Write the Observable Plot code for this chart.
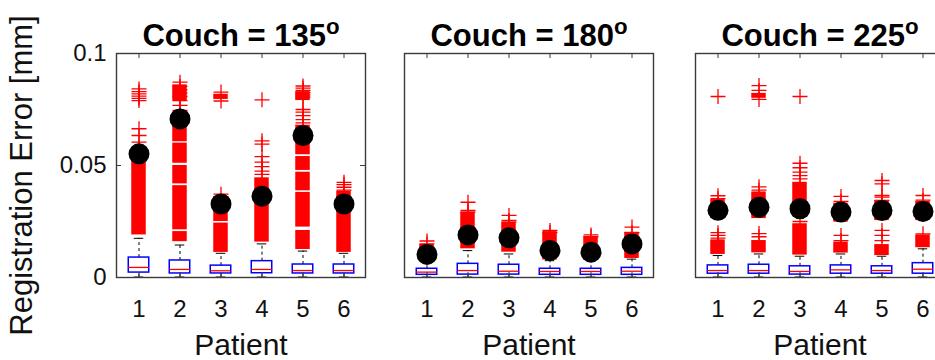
<!DOCTYPE html>
<html>
<head>
<meta charset="utf-8">
<script src="https://cdn.jsdelivr.net/npm/d3@7"></script>
<script src="https://cdn.jsdelivr.net/npm/@observablehq/plot@0.6"></script>
<style>
  html, body { margin: 0; padding: 0; background: #fff; overflow: hidden; }
  #chart { position: relative; width: 935px; height: 360px; overflow: hidden; background: #fff; }
  #chart svg { position: absolute; top: 0; }
</style>
</head>
<body>
<div id="chart"></div>
<script>
// ---- data ----
const couches = ["135", "180", "225"];
const patients = [1, 2, 3, 4, 5, 6];
const yTicks = [0, 0.05, 0.1];

// box statistics, one array per couch angle, one value per patient
const q1 = [
  [0.0022, 0.0018, 0.0018, 0.0019, 0.0018, 0.0018],
  [0.0012, 0.0013, 0.0013, 0.0012, 0.0012, 0.0012],
  [0.0017, 0.0017, 0.0013, 0.0017, 0.0017, 0.0017]
];
const medians = [
  [0.0045, 0.0036, 0.0030, 0.0036, 0.0031, 0.0031],
  [0.0024, 0.0031, 0.0028, 0.0027, 0.0027, 0.0028],
  [0.0031, 0.0031, 0.0027, 0.0034, 0.0031, 0.0037]
];
const q3 = [
  [0.0089, 0.0076, 0.0053, 0.0073, 0.0058, 0.0058],
  [0.0039, 0.0061, 0.0057, 0.0039, 0.0039, 0.0043],
  [0.0054, 0.0057, 0.0050, 0.0054, 0.0050, 0.0064]
];
const whiskerLow = [
  [0.0002, 0.0002, 0.0002, 0.0002, 0.0002, 0.0002],
  [0.0002, 0.0002, 0.0002, 0.0002, 0.0002, 0.0002],
  [0.0002, 0.0002, 0.0002, 0.0002, 0.0002, 0.0002]
];
const whiskerHigh = [
  [0.0175, 0.0145, 0.0108, 0.0150, 0.0118, 0.0108],
  [0.0080, 0.0120, 0.0105, 0.0075, 0.0075, 0.0082],
  [0.0098, 0.0105, 0.0095, 0.0105, 0.0095, 0.0128]
];
const means = [
  [0.0552, 0.0708, 0.0328, 0.0363, 0.0634, 0.0328],
  [0.0103, 0.0190, 0.0177, 0.0121, 0.0113, 0.0150],
  [0.0300, 0.0314, 0.0307, 0.0292, 0.0299, 0.0295]
];

// dense runs of outliers (drawn as solid red bands): [low, high]
const outlierBands = [
  [
    [[0.0190, 0.0570]],
    [[0.0160, 0.0205], [0.0213, 0.0410], [0.0418, 0.0500], [0.0510, 0.0600], [0.0606, 0.0690], [0.0790, 0.0860]],
    [[0.0112, 0.0243], [0.0250, 0.0360], [0.0795, 0.0818]],
    [[0.0158, 0.0445]],
    [[0.0125, 0.0210], [0.0225, 0.0380], [0.0387, 0.0470], [0.0478, 0.0540], [0.0548, 0.0680], [0.0790, 0.0830]],
    [[0.0112, 0.0385]]
  ],
  [
    [[0.0115, 0.0148]],
    [[0.0128, 0.0292]],
    [[0.0113, 0.0247]],
    [[0.0078, 0.0205]],
    [[0.0078, 0.0182]],
    [[0.0085, 0.0202]]
  ],
  [
    [[0.0263, 0.0348], [0.0103, 0.0168]],
    [[0.0800, 0.0822], [0.0263, 0.0382], [0.0110, 0.0165]],
    [[0.0285, 0.0425], [0.0100, 0.0240]],
    [[0.0247, 0.0332], [0.0109, 0.0158]],
    [[0.0254, 0.0344], [0.0098, 0.0147]],
    [[0.0254, 0.0340], [0.0133, 0.0190]]
  ]
];

// individual outliers ("+")
const outliers = [
  [
    [0.0842, 0.0830, 0.0820, 0.0810, 0.0800, 0.0790, 0.0664, 0.0634, 0.0604, 0.0580],
    [0.0872, 0.0853, 0.0838, 0.0823, 0.0808, 0.0790, 0.0768, 0.0746, 0.0723, 0.0700],
    [0.0828, 0.0788, 0.0372],
    [0.0793, 0.0610, 0.0595, 0.0540, 0.0515, 0.0495, 0.0475, 0.0460],
    [0.0855, 0.0845, 0.0835, 0.0825, 0.0815, 0.0805, 0.0750, 0.0738, 0.0723, 0.0705, 0.0690],
    [0.0425, 0.0415, 0.0403, 0.0390]
  ],
  [
    [0.0163, 0.0150],
    [0.0336, 0.0300, 0.0292],
    [0.0277, 0.0255, 0.0247],
    [0.0210, 0.0200],
    [0.0190, 0.0182],
    [0.0225, 0.0200]
  ],
  [
    [0.0808, 0.0365, 0.0352, 0.0200, 0.0188, 0.0176],
    [0.0857, 0.0835, 0.0795, 0.0405, 0.0390, 0.0196, 0.0182],
    [0.0808, 0.0510, 0.0490, 0.0470, 0.0455, 0.0440, 0.0250],
    [0.0362, 0.0340, 0.0188, 0.0165],
    [0.0433, 0.0418, 0.0366, 0.0359, 0.0344, 0.0210, 0.0188, 0.0165],
    [0.0366, 0.0345, 0.0195]
  ]
];

// ---- layout (pixels) ----
const panelLeft = [116, 404, 695];
const panelW = 249;
const frameH = 224;
const frameColor = "#3a3a3a";
const fontFamily = "'Liberation Sans', Arial, sans-serif";

// thin stroked "+" marker; r is its half-length in pixels
const plusSymbol = {
  draw(context, size) {
    const r = Math.sqrt(size / Math.PI);
    context.moveTo(-r, 0); context.lineTo(r, 0);
    context.moveTo(0, -r); context.lineTo(0, r);
  }
};

function makePanel(ci) {
  const first = ci === 0;
  const couch = couches[ci];
  const boxes = patients.map((p, pi) => ({
    patient: p, q1: q1[ci][pi], med: medians[ci][pi], q3: q3[ci][pi],
    lo: whiskerLow[ci][pi], hi: whiskerHigh[ci][pi], mean: means[ci][pi]
  }));
  const bandRows = patients.flatMap((p, pi) => outlierBands[ci][pi].map(([a, b]) => ({patient: p, a, b})));
  const outlierRows = patients.flatMap((p, pi) => outliers[ci][pi].map(v => ({patient: p, v})));

  const mL = first ? panelLeft[0] : 3;
  const mR = 3;
  const bandW = panelW / patients.length;
  const boxInset = (bandW - 21) / 2;
  const outInset = (bandW - 15) / 2;
  const capInset = (bandW - 10) / 2;

  const marks = [
    // whiskers
    Plot.ruleX(boxes, {x: "patient", y1: "q3", y2: "hi", stroke: "#000", strokeWidth: 1, strokeDasharray: "3,3"}),
    Plot.ruleX(boxes, {x: "patient", y1: "lo", y2: "q1", stroke: "#000", strokeWidth: 1, strokeDasharray: "3,3"}),
    Plot.tickY(boxes, {x: "patient", y: "hi", stroke: "#000", insetLeft: capInset, insetRight: capInset}),
    Plot.tickY(boxes, {x: "patient", y: "lo", stroke: "#000", insetLeft: capInset, insetRight: capInset}),
    // boxes and medians
    Plot.barY(boxes, {x: "patient", y1: "q1", y2: "q3", fill: "none", stroke: "#0000ff", strokeWidth: 1.5, insetLeft: boxInset, insetRight: boxInset}),
    Plot.tickY(boxes, {x: "patient", y: "med", stroke: "#ff0000", strokeWidth: 1.3, insetLeft: boxInset, insetRight: boxInset}),
    // outliers
    Plot.barY(bandRows, {x: "patient", y1: "a", y2: "b", fill: "#ff0000", insetLeft: outInset, insetRight: outInset}),
    Plot.dot(outlierRows, {x: "patient", y: "v", symbol: plusSymbol, r: 7.5, fill: "none", stroke: "#ff0000", strokeWidth: 1.3}),
    // means
    Plot.dot(boxes, {x: "patient", y: "mean", r: 10.5, fill: "#000", stroke: "none"}),
    // inward x ticks, top and bottom
    Plot.ruleX(patients, {x: d => d, insetTop: frameH - 5, stroke: frameColor}),
    Plot.ruleX(patients, {x: d => d, insetBottom: frameH - 5, stroke: frameColor}),
    Plot.frame({stroke: frameColor, strokeWidth: 1.4}),
    // title and x label
    Plot.text([couch], {text: d => `Couch = ${d}`, frameAnchor: "top", lineAnchor: "bottom", dy: -8,
      fontSize: 31, fontWeight: "bold", fill: "#000"}),
    Plot.text(["Patient"], {text: d => d, frameAnchor: "bottom", lineAnchor: "bottom", dy: 77,
      fontSize: 30, fill: "#111"})
  ];
  if (first) {
    marks.push(
      Plot.ruleY(yTicks, {y: d => d, insetRight: panelW - 5, stroke: frameColor}),
      Plot.ruleY(yTicks, {y: d => d, insetLeft: panelW - 5, stroke: frameColor}),
      Plot.text(["Registration Error [mm]"], {text: d => d, frameAnchor: "left", rotate: -90,
        textAnchor: "middle", lineAnchor: "top", dx: -107, dy: 10, fontSize: 31, fill: "#111"})
    );
  }

  const svg = Plot.plot({
    width: mL + panelW + mR,
    height: 360,
    marginLeft: mL,
    marginRight: mR,
    marginTop: 53,
    marginBottom: 83,
    style: {fontFamily, fontSize: "24px", color: "#111", background: "transparent", overflow: "visible"},
    x: {domain: patients, padding: 0, tickSize: 0, tickPadding: 22, label: null},
    y: {domain: [0, 0.1], ticks: yTicks, tickFormat: d => String(d), tickSize: 0, tickPadding: 10,
        label: null, axis: first ? "left" : null},
    marks
  });
  svg.style.left = (panelLeft[ci] - mL) + "px";

  // superscript "o" after the panel title (degree sign, drawn as in the original)
  d3.select(svg).selectAll("text").each(function() {
    if (this.childElementCount === 0 && /^Couch = /.test(this.textContent)) {
      d3.select(this).append("tspan").attr("dy", "-0.5em").attr("font-size", "0.72em").text("o");
    }
  });
  return svg;
}

const container = document.getElementById("chart");
couches.forEach((c, ci) => container.appendChild(makePanel(ci)));
</script>
</body>
</html>
